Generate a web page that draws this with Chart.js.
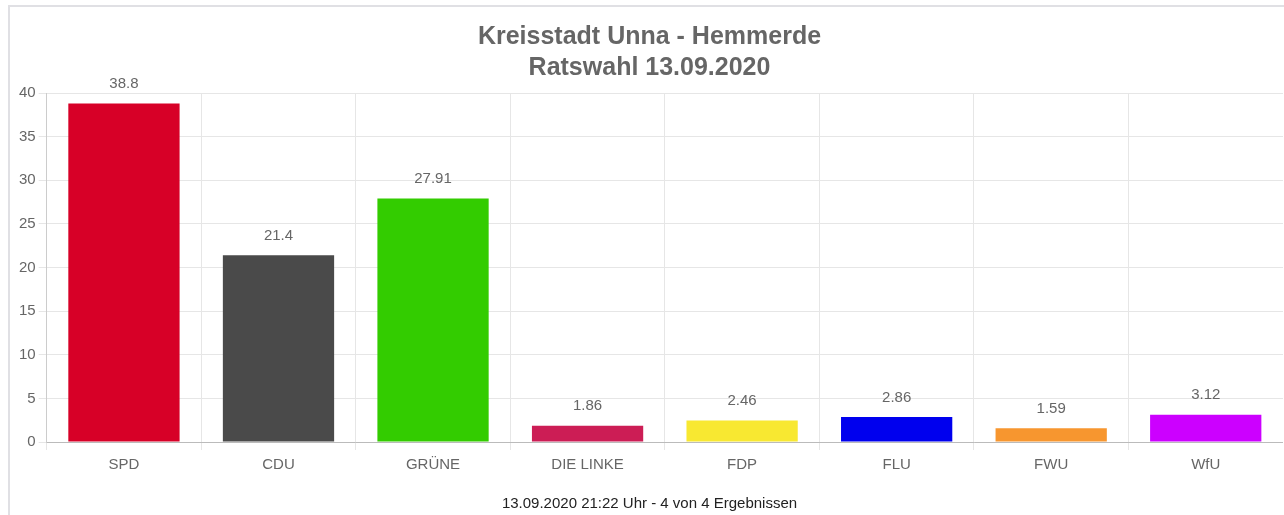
<!DOCTYPE html>
<html>
<head>
<meta charset="utf-8">
<script src="https://cdn.jsdelivr.net/npm/chart.js@4"></script>
<style>
  body { margin: 0; background: #fff; overflow: hidden; }
  #rahmen { position: absolute; left: 8px; top: 5px; width: 1300px; height: 525px; border: 2px solid #e0e0e4; box-sizing: border-box; }
  #wrap { position: absolute; left: 0; top: 0; width: 1273px; height: 520px; }
</style>
</head>
<body>
<div id="rahmen"><div id="wrap"><canvas id="myChart"></canvas></div></div>
<script>
/* Daten der Ratswahl */
const parteien = ['SPD', 'CDU', 'GRÜNE', 'DIE LINKE', 'FDP', 'FLU', 'FWU', 'WfU'];
const prozente = [38.8, 21.4, 27.91, 1.86, 2.46, 2.86, 1.59, 3.12];
const farben = ['#d70027', '#4a4a4a', '#33cc00', '#cc1d55', '#f8e831', '#0000ee', '#f7962f', '#cc00ff'];
const yTicks = [0, 5, 10, 15, 20, 25, 30, 35, 40];

const schrift = '"Liberation Sans", Arial, sans-serif';

/* Werte über den Balken schreiben */
const wertePlugin = {
  id: 'werte',
  afterDatasetsDraw(chart) {
    const ctx = chart.ctx;
    ctx.save();
    ctx.font = '15px ' + schrift;
    ctx.fillStyle = '#666';
    ctx.textAlign = 'center';
    ctx.textBaseline = 'bottom';
    chart.getDatasetMeta(0).data.forEach((bar, i) => {
      ctx.fillText(String(prozente[i]), bar.x, bar.y - 12);
    });
    ctx.restore();
  }
};

var ctx = document.getElementById('myChart');
var myChart = new Chart(ctx, {
  type: 'bar',
  data: {
    labels: parteien,
    datasets: [{
      data: prozente,
      backgroundColor: farben,
      borderWidth: 0
    }]
  },
  options: {
    responsive: true,
    maintainAspectRatio: false,
    animation: false,
    layout: { padding: { left: 6, right: 0, top: 0, bottom: 0 } },
    plugins: {
      legend: { display: false },
      tooltip: { enabled: false },
      title: {
        display: true,
        text: ['Kreisstadt Unna - Hemmerde', 'Ratswahl 13.09.2020'],
        color: '#666',
        font: { family: schrift, size: 25, weight: 'bold', lineHeight: 1.24 },
        padding: { top: 15, bottom: 9 }
      },
      subtitle: {
        display: true,
        position: 'bottom',
        text: '13.09.2020 21:22 Uhr - 4 von 4 Ergebnissen',
        color: '#222',
        font: { family: schrift, size: 15 },
        padding: { top: 15, bottom: 14 }
      }
    },
    scales: {
      x: {
        grid: { color: '#e6e6e6', tickLength: 8 },
        border: { color: '#bbb' },
        ticks: { color: '#666', padding: 6, font: { family: schrift, size: 15 } }
      },
      y: {
        min: 0,
        max: 40,
        afterBuildTicks: axis => { axis.ticks = yTicks.map(v => ({ value: v })); },
        grid: { color: '#e6e6e6', tickLength: 8 },
        border: { color: '#ccc' },
        ticks: { color: '#666', font: { family: schrift, size: 15 } }
      }
    }
  },
  plugins: [wertePlugin]
});
</script>
</body>
</html>
